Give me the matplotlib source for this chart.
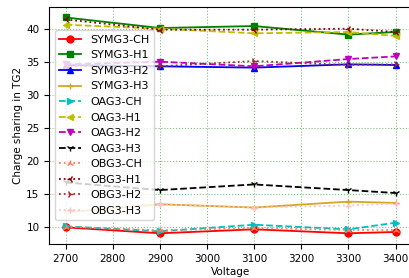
import matplotlib
matplotlib.use("Agg")
import matplotlib.pyplot as plt

# Voltage points
voltage = [2700, 2900, 3100, 3300, 3400]

# Charge sharing in TG2 per case
symg3_ch = [9.9, 9.0, 9.6, 9.0, 9.2]
symg3_h1 = [41.7, 40.1, 40.4, 39.1, 39.5]
symg3_h2 = [34.5, 34.3, 34.1, 34.6, 34.5]
symg3_h3 = [12.2, 13.4, 12.9, 13.8, 13.6]
oag3_ch = [10.05, 9.3, 10.3, 9.6, 10.6]
oag3_h1 = [40.6, 40.0, 39.3, 39.5, 38.9]
oag3_h2 = [34.6, 35.0, 34.3, 35.4, 35.8]
oag3_h3 = [16.7, 15.55, 16.4, 15.55, 15.1]
obg3_ch = [10.0, 9.45, 9.8, 9.5, 9.5]
obg3_h1 = [41.4, 39.85, 39.85, 40.0, 39.5]
obg3_h2 = [34.3, 34.3, 35.1, 34.5, 34.6]
obg3_h3 = [12.2, 13.4, 12.9, 13.2, 13.5]

series = [
    ("SYMG3-CH", symg3_ch, "r", "o", "-"),
    ("SYMG3-H1", symg3_h1, "g", "s", "-"),
    ("SYMG3-H2", symg3_h2, "b", "^", "-"),
    ("SYMG3-H3", symg3_h3, "goldenrod", "+", "-"),
    ("OAG3-CH", oag3_ch, "c", ">", "--"),
    ("OAG3-H1", oag3_h1, "y", "<", "--"),
    ("OAG3-H2", oag3_h2, "m", "v", "--"),
    ("OAG3-H3", oag3_h3, "k", "1", "--"),
    ("OBG3-CH", obg3_ch, "coral", "2", ":"),
    ("OBG3-H1", obg3_h1, "darkred", "3", ":"),
    ("OBG3-H2", obg3_h2, "brown", "4", ":"),
    ("OBG3-H3", obg3_h3, "pink", "+", ":"),
]

fig, ax = plt.subplots(figsize=(4.1, 2.78), dpi=100)
fig.subplots_adjust(left=0.12, right=1.005, top=0.976, bottom=0.122)

for name, vals, col, mk, ls in series:
    ax.plot(voltage, vals, color=col, marker=mk, linestyle=ls, label=name,
            linewidth=1.3, markersize=5)

ax.set_xticks(range(2700, 3401, 100))
ax.set_yticks(range(10, 41, 5))
ax.tick_params(labelsize=7.5)
ax.set_xlabel("Voltage", fontsize=7.5, labelpad=2)
ax.set_ylabel("Charge sharing in TG2", fontsize=7.5, labelpad=2)
ax.grid(True, color="green", linestyle=":", linewidth=0.8, alpha=0.5)
ax.legend(loc="center left", fontsize=8)

fig.savefig("out.png", dpi=100)
